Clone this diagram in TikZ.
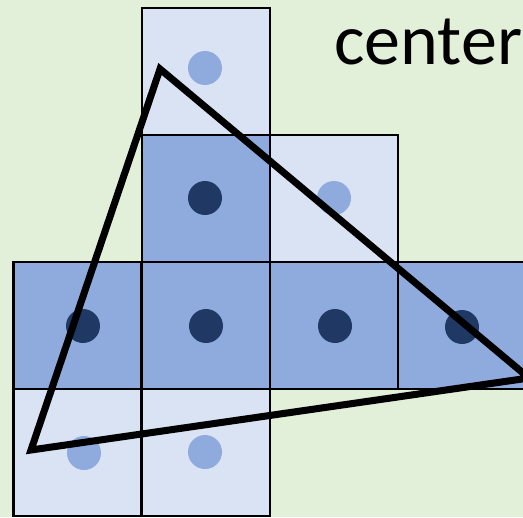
\documentclass[tikz,border=0pt]{standalone}
\usepackage{fontspec}
\setsansfont{Carlito}
\definecolor{bgcol}{RGB}{226,240,217}
\definecolor{cellpale}{RGB}{218,227,243}
\definecolor{cellfull}{RGB}{143,170,220}
\definecolor{dotdark}{RGB}{31,56,100}
\definecolor{dotpale}{RGB}{143,170,220}
\usetikzlibrary{positioning}
\tikzset{
  palecell/.style={rectangle, draw=black, fill=cellpale, line width=1.2pt,
    minimum width=2.56cm, minimum height=2.54cm, inner sep=0pt},
  fullcell/.style={rectangle, draw=black, fill=cellfull, line width=1.2pt,
    minimum width=2.56cm, minimum height=2.54cm, inner sep=0pt},
  hitdot/.style={circle, fill=dotdark, minimum size=0.68cm, inner sep=0pt},
  missdot/.style={circle, fill=dotpale, minimum size=0.68cm, inner sep=0pt},
  tri/.style={draw=black, line width=4pt},
}

\begin{document}
\begin{tikzpicture}[x=0.02cm, y=-0.02cm]
  \fill[bgcol] (0,0) rectangle (523,517);
  \useasboundingbox (0,0) rectangle (523,517);
  \clip (0,0) rectangle (523,517);

  % cells
  \node[palecell] (c01) at (206,71.5) {};
  \node[fullcell] (c11) at (206,198.5) {};
  \node[palecell] (c12) at (334,198.5) {};
  \node[fullcell] (c20) at (77.5,325.5) {};
  \node[fullcell] (c21) at (206,325.5) {};
  \node[fullcell] (c22) at (334,325.5) {};
  \node[fullcell] (c23) at (462,325.5) {};
  \node[palecell] (c30) at (77.5,452.5) {};
  \node[palecell] (c31) at (206,452.5) {};

  % sample centers
  \node[missdot] (d01) at (205,68) {};
  \node[hitdot]  (d11) at (205,198) {};
  \node[missdot] (d12) at (334,198) {};
  \node[hitdot]  (d20) at (83,326) {};
  \node[hitdot]  (d21) at (206,326) {};
  \node[hitdot]  (d22) at (335,326) {};
  \node[hitdot]  (d23) at (462,327) {};
  \node[missdot] (d30) at (84,453) {};
  \node[missdot] (d31) at (205,452) {};

  % triangle
  \coordinate (va) at (160,69);
  \coordinate (vb) at (31,450);
  \coordinate (vc) at (529,378);
  \draw[tri] (va) -- (vb) -- (vc) -- cycle;

  \node[anchor=base west, inner sep=0pt, font=\sffamily\fontsize{41}{49}\selectfont]
    (label) at (334,65) {center};
\end{tikzpicture}
\end{document}
